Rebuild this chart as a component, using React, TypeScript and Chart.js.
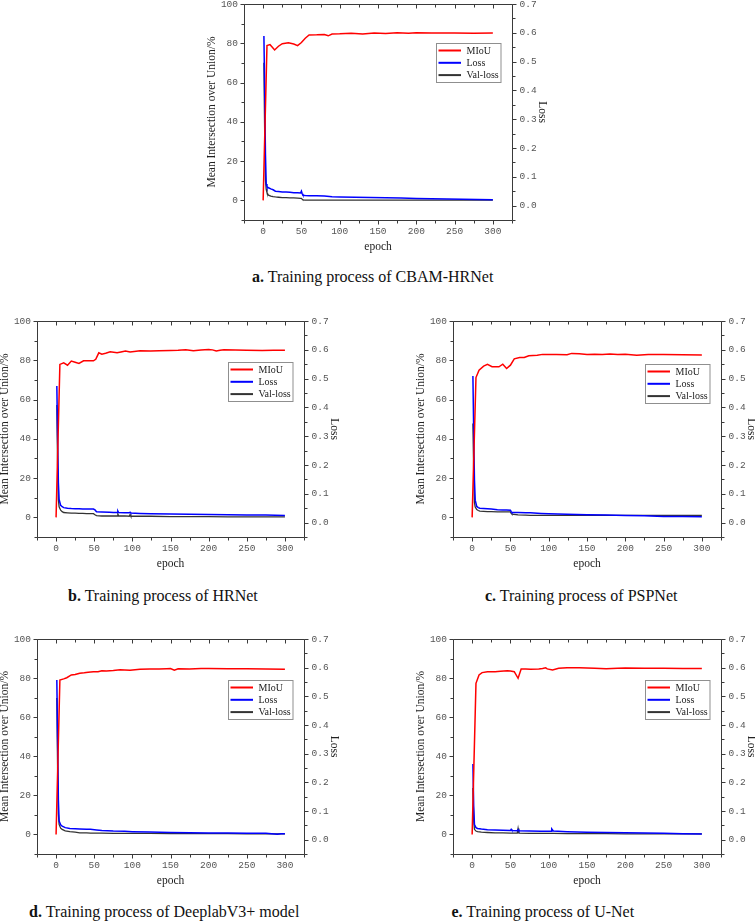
import React, { useEffect, useRef } from "react";
import { Chart, registerables } from "chart.js";

Chart.register(...registerables);

// ---------- axis tick values ----------
const xTicks = [0, 50, 100, 150, 200, 250, 300];
const xMinorTicks = [-25, 25, 75, 125, 175, 225, 275, 325];
const miouTicks = [0, 20, 40, 60, 80, 100];
const miouMinorTicks = [-10, 10, 30, 50, 70, 90];
const lossTicks = [0, 0.1, 0.2, 0.3, 0.4, 0.5, 0.6, 0.7];
const lossMinorTicks = [-0.05, 0.05, 0.15, 0.25, 0.35, 0.45, 0.55, 0.65];
const seriesNames = ["MIoU", "Loss", "Val-loss"];
const xTitle = "epoch";
const yTitle = "Mean Intersection over Union/%";
const y1Title = "Loss";

// ---------- a. CBAM-HRNet ----------
const aEpM = [0, 5, 9, 12, 15, 20, 25, 33, 40, 45, 50, 55, 60, 70, 80, 85, 90, 100, 115, 130, 145, 160, 175, 190, 200, 220, 250, 275, 300];
const aMiou = [0, 78.8, 79.3, 78.0, 76.6, 78.5, 79.8, 80.2, 79.6, 78.8, 80.4, 82.6, 84.2, 84.3, 84.5, 83.8, 84.7, 84.8, 85.1, 84.7, 85.2, 85.0, 85.3, 85.1, 85.3, 85.2, 85.2, 85.1, 85.2];
const aEpL = [1, 2, 3, 4, 5, 7, 10, 13, 16, 20, 25, 30, 35, 40, 45, 49, 50, 51, 52, 55, 60, 70, 80, 90, 100, 120, 140, 160, 180, 200, 220, 240, 260, 280, 300];
const aLoss = [0.589, 0.4, 0.18, 0.075, 0.066, 0.062, 0.058, 0.055, 0.05, 0.049, 0.047, 0.047, 0.046, 0.045, 0.045, 0.044, 0.05, 0.041, 0.036, 0.035, 0.034, 0.034, 0.033, 0.031, 0.03, 0.029, 0.028, 0.027, 0.026, 0.025, 0.024, 0.023, 0.022, 0.021, 0.02];
const aVal = [0.496, 0.25, 0.09, 0.056, 0.045, 0.036, 0.033, 0.031, 0.03, 0.029, 0.028, 0.028, 0.027, 0.027, 0.026, 0.025, 0.025, 0.022, 0.02, 0.019, 0.019, 0.019, 0.019, 0.019, 0.019, 0.019, 0.019, 0.019, 0.019, 0.019, 0.019, 0.019, 0.019, 0.019, 0.019];

// ---------- b. HRNet ----------
const bEpM = [0, 5, 10, 15, 20, 25, 30, 36, 42, 49, 52, 56, 60, 65, 71, 80, 85, 91, 97, 105, 110, 124, 135, 150, 160, 170, 180, 190, 200, 205, 210, 215, 220, 235, 250, 270, 285, 300];
const bMiou = [0, 77.9, 78.7, 77.5, 79.6, 79.0, 78.4, 79.7, 79.8, 79.7, 80.5, 83.8, 83.1, 83.6, 84.3, 83.8, 84.2, 84.7, 84.2, 84.6, 84.8, 84.7, 84.9, 85.0, 85.1, 85.3, 84.9, 85.2, 85.5, 85.3, 84.7, 85.1, 85.3, 85.2, 85.1, 85.0, 85.1, 85.1];
const bEpL = [1, 2, 3, 4, 6, 8, 10, 15, 20, 25, 30, 35, 40, 45, 49, 51, 53, 60, 70, 75, 80, 81, 82, 90, 96, 97, 98, 110, 124, 150, 175, 200, 225, 250, 275, 300];
const bLoss = [0.474, 0.3, 0.14, 0.08, 0.06, 0.055, 0.052, 0.05, 0.049, 0.0485, 0.048, 0.0475, 0.047, 0.0475, 0.047, 0.044, 0.038, 0.037, 0.036, 0.035, 0.035, 0.04, 0.035, 0.034, 0.034, 0.036, 0.033, 0.032, 0.031, 0.03, 0.029, 0.028, 0.027, 0.026, 0.026, 0.025];
const bVal = [0.408, 0.2, 0.08, 0.055, 0.043, 0.038, 0.035, 0.034, 0.033, 0.033, 0.032, 0.032, 0.031, 0.031, 0.031, 0.027, 0.024, 0.023, 0.023, 0.023, 0.023, 0.03, 0.023, 0.023, 0.022, 0.028, 0.022, 0.022, 0.022, 0.021, 0.021, 0.021, 0.02, 0.02, 0.02, 0.02];

// ---------- c. PSPNet ----------
const cEpM = [0, 5, 9, 15, 20, 26, 35, 40, 45, 50, 55, 62, 68, 74, 85, 92, 110, 124, 130, 140, 150, 160, 170, 180, 190, 200, 215, 230, 250, 275, 300];
const cMiou = [0, 71.2, 75.0, 77.0, 77.9, 76.7, 76.7, 78.0, 75.8, 77.5, 80.7, 81.4, 81.4, 82.3, 82.6, 83.0, 82.9, 82.8, 83.5, 83.3, 82.9, 83.1, 83.0, 83.2, 82.9, 83.1, 82.6, 82.9, 82.9, 82.8, 82.7];
const cEpL = [1, 2, 3, 4, 6, 8, 10, 15, 20, 25, 33, 40, 45, 50, 51, 52, 60, 70, 76, 90, 100, 124, 150, 175, 200, 225, 250, 275, 300];
const cLoss = [0.509, 0.32, 0.15, 0.078, 0.056, 0.052, 0.05, 0.049, 0.048, 0.047, 0.045, 0.044, 0.044, 0.043, 0.038, 0.035, 0.035, 0.034, 0.034, 0.032, 0.031, 0.029, 0.027, 0.026, 0.025, 0.024, 0.021, 0.021, 0.02];
const cVal = [0.344, 0.18, 0.07, 0.054, 0.045, 0.042, 0.04, 0.039, 0.038, 0.038, 0.037, 0.037, 0.037, 0.037, 0.032, 0.029, 0.027, 0.026, 0.025, 0.025, 0.025, 0.025, 0.025, 0.025, 0.025, 0.025, 0.025, 0.025, 0.025];

// ---------- d. DeeplabV3+ ----------
const dEpM = [0, 5, 10, 14, 20, 25, 31, 37, 42, 49, 55, 60, 66, 75, 84, 90, 97, 110, 123, 135, 145, 150, 155, 160, 175, 190, 200, 225, 250, 275, 300];
const dMiou = [0, 79.0, 79.6, 80.2, 81.6, 81.8, 82.5, 82.7, 83.0, 83.3, 83.2, 83.8, 83.6, 83.9, 84.3, 84.2, 84.0, 84.5, 84.7, 84.6, 84.8, 84.9, 84.0, 84.8, 84.7, 84.9, 84.9, 84.8, 84.8, 84.7, 84.5];
const dEpL = [1, 2, 3, 4, 6, 8, 12, 18, 25, 31, 40, 45, 53, 60, 75, 90, 100, 123, 150, 175, 200, 225, 250, 275, 290, 295, 300];
const dLoss = [0.557, 0.35, 0.14, 0.065, 0.052, 0.047, 0.042, 0.039, 0.038, 0.037, 0.036, 0.036, 0.034, 0.032, 0.03, 0.029, 0.028, 0.027, 0.025, 0.024, 0.023, 0.023, 0.022, 0.022, 0.019, 0.021, 0.021];
const dVal = [0.494, 0.25, 0.09, 0.053, 0.04, 0.036, 0.031, 0.028, 0.026, 0.024, 0.024, 0.023, 0.023, 0.023, 0.022, 0.022, 0.022, 0.022, 0.021, 0.021, 0.021, 0.021, 0.02, 0.02, 0.02, 0.02, 0.02];

// ---------- e. U-Net ----------
const eEpM = [0, 5, 9, 13, 20, 30, 37, 46, 50, 55, 60, 64, 70, 76, 87, 92, 96, 98, 105, 113, 124, 140, 160, 175, 190, 200, 225, 250, 275, 300];
const eMiou = [0, 77.3, 81.6, 82.8, 83.3, 83.3, 83.5, 83.8, 83.6, 83.3, 79.9, 84.7, 84.6, 84.5, 84.7, 84.9, 85.3, 84.7, 84.2, 85.0, 85.3, 85.3, 85.0, 84.8, 85.0, 85.2, 85.0, 85.0, 84.9, 84.9];
const eEpL = [1, 2, 3, 5, 7, 12, 20, 30, 40, 50, 51, 52, 59, 60, 61, 75, 90, 103, 104, 106, 124, 150, 175, 200, 225, 250, 275, 300];
const eLoss = [0.264, 0.12, 0.053, 0.042, 0.039, 0.037, 0.035, 0.034, 0.033, 0.032, 0.036, 0.032, 0.031, 0.035, 0.031, 0.03, 0.029, 0.029, 0.037, 0.03, 0.028, 0.026, 0.025, 0.024, 0.023, 0.022, 0.021, 0.02];
const eVal = [0.18, 0.07, 0.036, 0.03, 0.028, 0.026, 0.025, 0.024, 0.024, 0.023, 0.023, 0.023, 0.023, 0.039, 0.023, 0.022, 0.022, 0.022, 0.022, 0.022, 0.021, 0.021, 0.021, 0.02, 0.02, 0.02, 0.02, 0.02];

// ---------- styles ----------
const COLORS = ["#ff0000", "#0000ff", "#333333"];
const WIDTHS = [1.5, 1.5, 1.3];
const AXIS_COLOR = "#3a3a3a";
const TICK_COLOR = "#555555";
const TITLE_COLOR = "#222222";
const TICK_FONT = { family: "'Liberation Mono', monospace", size: 9.5 };
const TITLE_FONT = { family: "'Liberation Serif', serif", size: 11.5 };
const SIDE_L = 45;
const SIDE_R = 45;
const BOTTOM = 45;
const TOP_PAD = 16;

type Spec = {
  tag: string;
  caption: string;
  L: number; T: number; W: number; H: number;
  capLeft: number; capTop: number;
  legendTop: number;
  epM: number[]; miou: number[];
  epL: number[]; loss: number[]; val: number[];
};

const panels: Spec[] = [
  { tag: "a.", caption: "Training process of CBAM-HRNet", L: 244, T: 4, W: 268, H: 216, capLeft: 252, capTop: 269, legendTop: 39, epM: aEpM, miou: aMiou, epL: aEpL, loss: aLoss, val: aVal },
  { tag: "b.", caption: "Training process of HRNet", L: 37, T: 321, W: 267, H: 216, capLeft: 68, capTop: 587.5, legendTop: 41, epM: bEpM, miou: bMiou, epL: bEpL, loss: bLoss, val: bVal },
  { tag: "c.", caption: "Training process of PSPNet", L: 453, T: 321, W: 268, H: 216, capLeft: 485, capTop: 587.5, legendTop: 43, epM: cEpM, miou: cMiou, epL: cEpL, loss: cLoss, val: cVal },
  { tag: "d.", caption: "Training process of DeeplabV3+ model", L: 37, T: 639, W: 267, H: 215, capLeft: 29, capTop: 904, legendTop: 41, epM: dEpM, miou: dMiou, epL: dEpL, loss: dLoss, val: dVal },
  { tag: "e.", caption: "Training process of U-Net", L: 453, T: 639, W: 268, H: 215, capLeft: 451.5, capTop: 903.5, legendTop: 41, epM: eEpM, miou: eMiou, epL: eEpL, loss: eLoss, val: eVal },
];

const framePlugin = {
  id: "frame",
  afterDraw(chart: any, _args: any, opts: any) {
    const { ctx, chartArea } = chart;
    const { left, right, top, bottom } = chartArea;
    const sx = chart.scales.x, sy = chart.scales.y, sy1 = chart.scales.y1;
    const r = (v: number) => Math.round(v) + 0.5;
    ctx.save();
    ctx.strokeStyle = AXIS_COLOR;
    ctx.lineWidth = 1;
    ctx.beginPath();
    ctx.rect(r(left), r(top), Math.round(right) - Math.round(left), Math.round(bottom) - Math.round(top));
    const seg = (x1: number, y1: number, x2: number, y2: number) => { ctx.moveTo(x1, y1); ctx.lineTo(x2, y2); };
    const B = r(bottom), Tp = r(top), Lf = r(left), Rt = r(right);
    xTicks.forEach((v) => { const p = r(sx.getPixelForValue(v)); seg(p, B, p, B + 4); seg(p, Tp, p, Tp + 4); });
    xMinorTicks.forEach((v) => { const p = r(sx.getPixelForValue(v)); seg(p, B, p, B + 3); seg(p, Tp, p, Tp + 3); });
    miouTicks.forEach((v) => { const p = r(sy.getPixelForValue(v)); seg(Lf, p, Lf - 4, p); });
    miouMinorTicks.forEach((v) => { const p = r(sy.getPixelForValue(v)); seg(Lf, p, Lf - 3, p); });
    lossTicks.forEach((v) => { const p = r(sy1.getPixelForValue(v)); seg(Rt, p, Rt + 4, p); });
    lossMinorTicks.forEach((v) => { const p = r(sy1.getPixelForValue(v)); seg(Rt, p, Rt + 3, p); });
    ctx.stroke();

    // legend
    const bw = 64.5, bh = 39;
    const bx = Math.round(right - 76.5) + 0.5;
    const by = Math.round(top + (opts.legendTop || 40)) + 0.5;
    ctx.fillStyle = "#ffffff";
    ctx.fillRect(bx, by, bw, bh);
    ctx.strokeStyle = "#8f8f8f";
    ctx.strokeRect(bx, by, bw, bh);
    ctx.font = "10px 'Liberation Serif', serif";
    ctx.textBaseline = "middle";
    ctx.textAlign = "left";
    chart.data.datasets.forEach((ds: any, i: number) => {
      const cy = by + 7 + i * 12.3;
      ctx.strokeStyle = ds.borderColor;
      ctx.lineWidth = 2;
      ctx.beginPath();
      ctx.moveTo(bx + 2, cy);
      ctx.lineTo(bx + 24.5, cy);
      ctx.stroke();
      ctx.fillStyle = "#222222";
      ctx.fillText(ds.label, bx + 30, cy + 0.5);
    });
    ctx.restore();
  },
};

function buildConfig(s: Spec): any {
  const pts = (xs: number[], ys: number[]) => xs.map((x, i) => ({ x, y: ys[i] }));
  const ds = (i: number, data: any[], axis: string) => ({
    label: seriesNames[i],
    data,
    yAxisID: axis,
    borderColor: COLORS[i],
    backgroundColor: COLORS[i],
    borderWidth: WIDTHS[i],
    pointRadius: 0,
    tension: 0,
    fill: false,
  });
  const setTicks = (vals: number[]) => (scale: any) => { scale.ticks = vals.map((v) => ({ value: v })); };
  return {
    type: "line",
    data: {
      datasets: [
        ds(0, pts(s.epM, s.miou), "y"),
        ds(1, pts(s.epL, s.loss), "y1"),
        ds(2, pts(s.epL, s.val), "y1"),
      ],
    },
    plugins: [framePlugin],
    options: {
      responsive: false,
      animation: false,
      devicePixelRatio: 1,
      layout: { padding: { top: TOP_PAD, left: 0, right: 0, bottom: 0 } },
      plugins: {
        legend: { display: false },
        tooltip: { enabled: false },
        frame: { legendTop: s.legendTop },
      },
      scales: {
        x: {
          type: "linear",
          position: "bottom",
          min: -25,
          max: 325,
          afterBuildTicks: setTicks(xTicks),
          afterFit: (sc: any) => { sc.height = BOTTOM; },
          grid: { display: false, drawTicks: false },
          border: { display: false },
          ticks: { font: TICK_FONT, color: TICK_COLOR, padding: 6, maxRotation: 0, autoSkip: false, callback: (v: any) => String(v) },
          title: { display: true, text: xTitle, font: TITLE_FONT, color: TITLE_COLOR, padding: { top: 0, bottom: 11 } },
        },
        y: {
          type: "linear",
          position: "left",
          min: -10,
          max: 100,
          afterBuildTicks: setTicks(miouTicks),
          afterFit: (sc: any) => { sc.width = SIDE_L; },
          grid: { display: false, drawTicks: false },
          border: { display: false },
          ticks: { font: TICK_FONT, color: TICK_COLOR, padding: 6, autoSkip: false, callback: (v: any) => String(v) },
          title: { display: true, text: yTitle, font: TITLE_FONT, color: TITLE_COLOR, padding: { top: 6.5, bottom: 0 } },
        },
        y1: {
          type: "linear",
          position: "right",
          min: -0.05,
          max: 0.7,
          afterBuildTicks: setTicks(lossTicks),
          afterFit: (sc: any) => { sc.width = SIDE_R; },
          grid: { display: false, drawTicks: false },
          border: { display: false },
          ticks: { font: TICK_FONT, color: TICK_COLOR, padding: 7.5, autoSkip: false, callback: (v: any) => Number(v).toFixed(1) },
          title: { display: true, text: y1Title, font: TITLE_FONT, color: TITLE_COLOR, padding: { top: 8.5, bottom: 0 } },
        },
      },
    },
  };
}

function Panel({ spec }: { spec: Spec }) {
  const ref = useRef<HTMLCanvasElement>(null);
  useEffect(() => {
    if (!ref.current) return;
    const chart = new Chart(ref.current, buildConfig(spec));
    return () => chart.destroy();
  }, [spec]);
  const w = spec.W + SIDE_L + SIDE_R;
  const h = spec.H + TOP_PAD + BOTTOM;
  return (
    <>
      <div style={{ position: "absolute", left: spec.L - SIDE_L, top: spec.T - TOP_PAD, width: w, height: h }}>
        <canvas ref={ref} width={w} height={h} style={{ display: "block", width: w, height: h }} />
      </div>
      <div
        style={{
          position: "absolute",
          left: spec.capLeft,
          top: spec.capTop,
          fontFamily: "'Liberation Serif', 'Times New Roman', serif",
          fontSize: 16,
          lineHeight: "16px",
          whiteSpace: "nowrap",
          color: "#111",
        }}
      >
        <b>{spec.tag}</b> {spec.caption}
      </div>
    </>
  );
}

export default function App() {
  return (
    <div style={{ position: "absolute", left: 0, top: 0, width: 755, height: 922, overflow: "hidden", background: "#fff" }}>
      {panels.map((p) => (
        <Panel key={p.tag} spec={p} />
      ))}
    </div>
  );
}
